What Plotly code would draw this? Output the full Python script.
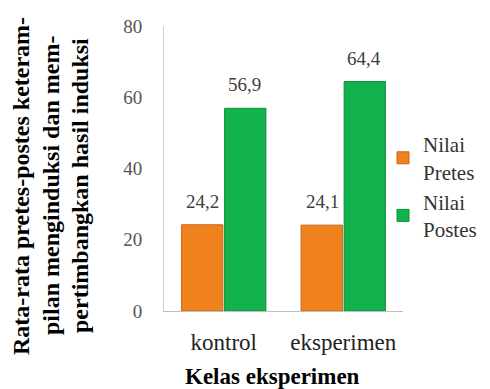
import plotly.graph_objects as go

categories = ["kontrol", "eksperimen"]
pretes = [24.2, 24.1]
postes = [56.9, 64.4]
series_names = ["Nilai<br>Pretes", "Nilai<br>Postes"]
y_ticks = [0, 20, 40, 60, 80]
y_title_lines = [
    "Rata-rata pretes-postes keteram-",
    "pilan menginduksi dan mem-",
    "pertimbangkan hasil induksi",
]
x_title = "Kelas eksperimen"

SERIF = "Liberation Serif"

def fmt(v):
    return f"{v:.1f}".replace(".", ",")

fig = go.Figure()
fig.add_trace(go.Bar(
    x=categories, y=pretes, name=series_names[0],
    marker=dict(color="#F0821E", line=dict(color="#C8641A", width=1)),
))
fig.add_trace(go.Bar(
    x=categories, y=postes, name=series_names[1],
    marker=dict(color="#12B24C", line=dict(color="#0C8E3A", width=1)),
))

L, R, T, B = 164, 87, 26, 78
W, H = 490, 389
pw = W - L - R
ph = H - T - B

annotations = []
# value labels above each bar (pretes left of centre, postes right)
for vals, shift in ((pretes, -21), (postes, 21)):
    for cat, v in zip(categories, vals):
        annotations.append(dict(
            text=fmt(v), xref="x", yref="y", x=cat, y=v,
            xshift=shift, yshift=11, xanchor="center", yanchor="bottom",
            showarrow=False,
            font=dict(family=SERIF, size=19, color="#404040"),
        ))
# three-line rotated y title
for line, px in zip(y_title_lines, [21, 51, 80]):
    annotations.append(dict(
        text=f"<b>{line}</b>", textangle=-90,
        xref="paper", yref="paper",
        x=(px - L) / pw, y=(H - B - 186) / ph, xanchor="center", yanchor="middle",
        showarrow=False,
        font=dict(family=SERIF, size=24, color="#000000"),
    ))
annotations.append(dict(
    text=f"<b>{x_title}</b>", xref="paper", yref="paper",
    x=(272 - L) / pw, y=-(376 - (H - B)) / ph,
    xanchor="center", yanchor="middle", showarrow=False,
    font=dict(family=SERIF, size=23, color="#000000"),
))

fig.update_layout(
    width=W, height=H,
    margin=dict(l=L, r=R, t=T, b=B, pad=0, autoexpand=False),
    paper_bgcolor="white", plot_bgcolor="white",
    barmode="group", bargap=0.28, bargroupgap=0.04,
    showlegend=True,
    legend=dict(
        x=(383 - L) / pw, y=(H - B - 124) / ph, xanchor="left", yanchor="top",
        font=dict(family=SERIF, size=21, color="#333333"),
        tracegroupgap=12, itemwidth=30,
        bgcolor="rgba(0,0,0,0)",
    ),
    xaxis=dict(
        showgrid=False, showline=True, linecolor="#BFBFBF", linewidth=1,
        ticks="", tickfont=dict(family=SERIF, size=23, color="#222222"),
        ticklabelstandoff=10,
    ),
    yaxis=dict(
        range=[0, 80], tickvals=y_ticks, showgrid=False,
        showline=True, linecolor="#D0D0D0", linewidth=1,
        ticks="", tickfont=dict(family=SERIF, size=19, color="#555555"),
        ticklabelstandoff=17, zeroline=False,
    ),
    annotations=annotations,
)

fig.write_html("out.html")
